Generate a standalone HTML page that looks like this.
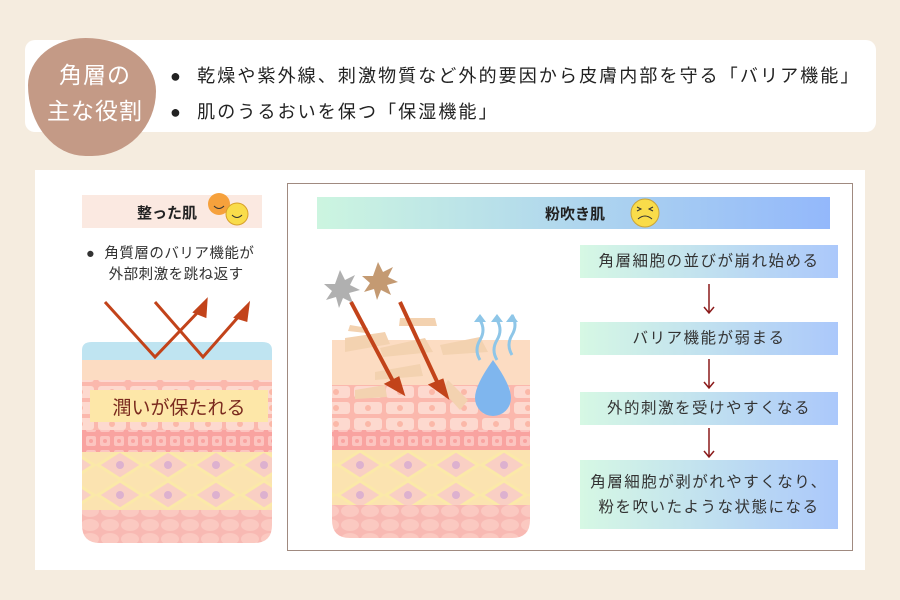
<!DOCTYPE html>
<html><head><meta charset="utf-8">
<style>
*{margin:0;padding:0;box-sizing:border-box}
body{width:900px;height:600px;background:#f5ecdf;font-family:"Liberation Sans","Noto Sans CJK JP",sans-serif;position:relative;overflow:hidden;color:#222}
.abs{position:absolute}
.flow{position:absolute;left:580px;width:258px;background:linear-gradient(90deg,#d6f8e4,#abc8fb);display:flex;align-items:center;justify-content:center;text-align:center;font-size:15.5px;color:#333;letter-spacing:1.5px;line-height:25px}
</style></head><body>
<div class="abs" style="left:25px;top:40px;width:851px;height:92px;background:#fff;border-radius:10px"></div>
<div class="abs" style="left:28px;top:38px;width:128px;height:118px;background:#c49a86;border-radius:45% 55% 50% 45%/40% 45% 55% 60%"></div>
<div class="abs" style="left:34px;top:57px;width:122px;color:#fff;font-size:23px;line-height:36px;text-align:center;letter-spacing:1px">角層の<br>主な役割</div>
<div class="abs" style="left:170px;top:58px;font-size:18px;line-height:36px;color:#222;letter-spacing:2.1px">
<div>●&nbsp; 乾燥や紫外線、刺激物質など外的要因から皮膚内部を守る「バリア機能」</div>
<div>●&nbsp; 肌のうるおいを保つ「保湿機能」</div></div>
<div class="abs" style="left:35px;top:170px;width:830px;height:400px;background:#fff"></div>
<div class="abs" style="left:82px;top:195px;width:180px;height:33px;background:#fbe9e1"></div>
<div class="abs" style="left:137px;top:202px;font-size:15px;font-weight:bold">整った肌</div>
<svg class="abs" style="left:204px;top:190px" width="50" height="38"><circle cx="15" cy="14" r="11" fill="#f6a13c"/><circle cx="33" cy="24" r="11" fill="#f9dc4a" stroke="#d8a02a"/><path d="M28 25q5 5 10 0" stroke="#333" fill="none"/><path d="M10 16q5 5 10 0" stroke="#333" fill="none"/></svg>
<div class="abs" style="left:86px;top:244px;font-size:14.5px;line-height:21px;color:#333;letter-spacing:0.5px">●&nbsp; 角質層のバリア機能が<br>&nbsp;&nbsp;&nbsp;&nbsp;&nbsp;外部刺激を跳ね返す</div>
<svg class="abs" style="left:0;top:0" width="900" height="600">
<defs>
<pattern id="dia" width="48" height="30" patternUnits="userSpaceOnUse"><rect width="48" height="30" fill="#fbe3b0"/><path d="M24 1L46 15L24 29L2 15Z" fill="#f9cfc4" stroke="#fbe9a8" stroke-width="3"/><circle cx="24" cy="15" r="4" fill="#ddb1cf"/></pattern>
<pattern id="cell" width="32" height="16" patternUnits="userSpaceOnUse"><rect width="32" height="16" fill="#fbb8ad"/><rect x="2" y="2" width="28" height="12" rx="3" fill="#fdd9cf"/><circle cx="16" cy="8" r="3" fill="#fbb8a8"/></pattern>
<pattern id="sm" width="14" height="14" patternUnits="userSpaceOnUse"><rect width="14" height="14" fill="#f9a3a0"/><rect x="2" y="2" width="10" height="10" rx="2" fill="#fcc5c0"/><circle cx="7" cy="7" r="2" fill="#f9a3a0"/></pattern>
<pattern id="bub" width="20" height="14" patternUnits="userSpaceOnUse"><rect width="20" height="14" fill="#f8b9b3"/><ellipse cx="10" cy="7" rx="9" ry="6" fill="#fbc9c1"/></pattern>
<clipPath id="c1"><path d="M82 350q0-8 10-8h170q10 0 10 8v175q0 18-18 18h-154q-18 0-18-18z"/></clipPath>
<clipPath id="c2"><path d="M332 340h198v180q0 18-18 18h-162q-18 0-18-18z"/></clipPath>
</defs>
<g clip-path="url(#c1)">
<rect x="82" y="342" width="191" height="20" fill="#bfe4f1"/>
<rect x="82" y="360" width="191" height="22" fill="#fcdcc2"/>
<rect x="82" y="380" width="191" height="50" fill="url(#cell)"/>
<rect x="82" y="430" width="191" height="22" fill="url(#sm)"/>
<rect x="82" y="452" width="191" height="60" fill="url(#dia)"/>
<rect x="82" y="510" width="191" height="35" fill="url(#bub)"/>
</g>
<rect x="90" y="390" width="178" height="32" fill="#fde7a8"/>
<text x="179" y="414" font-size="19" text-anchor="middle" fill="#7a2a1e" font-family="Liberation Sans,Noto Sans CJK JP,sans-serif">潤いが保たれる</text>
<g stroke="#c2431a" stroke-width="3" fill="#c2431a">
<path d="M105 302L155 357L200 310" fill="none"/><path d="M155 302L203 357L240 315" fill="none"/>
<path d="M206 301L195 312L205 316Z"/><path d="M248 305L236 317L246 320Z"/>
</g>
<rect x="287.5" y="183.5" width="565" height="367" fill="none" stroke="#a08a80"/>
<defs><linearGradient id="hg"><stop offset="0" stop-color="#ccf5e0"/><stop offset="1" stop-color="#93b8fb"/></linearGradient></defs>
<rect x="317" y="197" width="513" height="32" fill="url(#hg)"/>
<text x="605" y="219" font-size="15" font-weight="bold" text-anchor="end" fill="#222" font-family="Liberation Sans,Noto Sans CJK JP,sans-serif">粉吹き肌</text>
<circle cx="645" cy="213" r="14" fill="#f9dc4a" stroke="#c9a43a"/><path d="M638 219q7-6 14 0" stroke="#333" fill="none"/><path d="M637 207l4 2-4 2M653 207l-4 2 4 2" stroke="#333" fill="none"/>
<g clip-path="url(#c2)">
<rect x="332" y="340" width="198" height="45" fill="#fcdcc2"/>
<rect x="332" y="385" width="198" height="48" fill="url(#cell)"/>
<rect x="332" y="430" width="198" height="22" fill="url(#sm)"/>
<rect x="332" y="450" width="198" height="58" fill="url(#dia)"/>
<rect x="332" y="505" width="198" height="35" fill="url(#bub)"/>
</g>
<g fill="#f3d2b0"><path d="M345 338l40-6 5 12-45 8z"/><path d="M380 348l45-10 8 14-50 5z"/><path d="M440 345l40-8 8 15-45 3z"/><path d="M375 372l45-8 3 12-48 4z"/><path d="M355 390l30-5 2 12-32 2z"/><path d="M448 380l20 20-8 10-18-20z"/><path d="M350 325l18 3-2 5-18-2z"/><path d="M400 318l35 0 2 8-38 0z"/></g>
<path d="M340 270l5 10 10-5-5 10 10 5-11 3 4 10-10-5-4 10-3-11-10 3 6-9-8-7 11 0z" fill="#b0b0b0"/>
<path d="M378 262l5 10 10-5-5 10 10 5-11 3 4 10-10-5-4 10-3-11-10 3 6-9-8-7 11 0z" fill="#c49a72"/>
<g stroke="#c2431a" stroke-width="4" fill="#c2431a"><path d="M351 302L395 385"/><path d="M400 302L440 388"/><path d="M402 392l-14-8 10-5z"/><path d="M446 395l-14-10 10-4z"/></g>
<g stroke="#8ec6e8" stroke-width="3" fill="none"><path d="M480 360q-6-10 0-20t0-20"/><path d="M497 360q-6-10 0-20t0-20"/><path d="M512 355q-6-10 0-20t0-20"/></g>
<g fill="#8ec6e8"><path d="M474 322l6-8 6 8z"/><path d="M491 322l6-8 6 8z"/><path d="M506 322l6-8 6 8z"/></g>
<path d="M493 360q-18 25-18 38a18 18 0 0 0 36 0q0-13-18-38z" fill="#7fb6ee"/>
<g stroke="#8b1a1a" stroke-width="1.5" fill="none"><path d="M709 284v28M704 307l5 6 5-6"/><path d="M709 359v28M704 382l5 6 5-6"/><path d="M709 428v28M704 451l5 6 5-6"/></g>
</svg>
<div class="flow" style="top:245px;height:33px">角層細胞の並びが崩れ始める</div>
<div class="flow" style="top:322px;height:33px">バリア機能が弱まる</div>
<div class="flow" style="top:392px;height:33px">外的刺激を受けやすくなる</div>
<div class="flow" style="top:460px;height:69px">角層細胞が剥がれやすくなり、<br>粉を吹いたような状態になる</div>
</body></html>
